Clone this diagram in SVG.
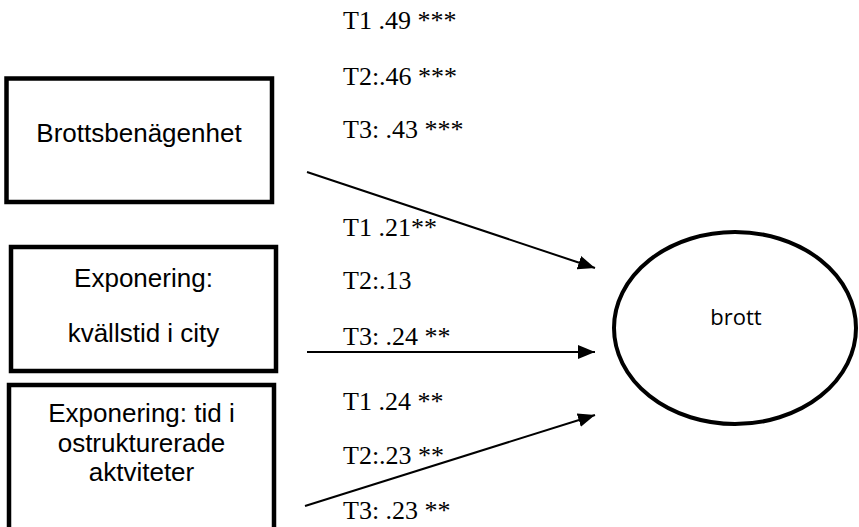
<svg xmlns="http://www.w3.org/2000/svg" width="859" height="527" viewBox="0 0 859 527">
<style>
.box{fill:#fff;stroke:#000;stroke-width:4.5}
.lbl{font-family:"Liberation Sans",Arial,sans-serif;font-size:26px;fill:#000;text-anchor:middle}
.coef{font-family:"Liberation Serif","Times New Roman",serif;font-size:26px;fill:#000}
.edge{stroke:#000;stroke-width:2;fill:none}
</style>
<defs>
<marker id="ah" markerUnits="userSpaceOnUse" markerWidth="18" markerHeight="14" refX="17" refY="7" orient="auto">
<path d="M0,0 L17,7 L0,14 z" fill="#000"/>
</marker>
</defs>
<rect width="859" height="527" fill="#fff"/>
<g id="connectors">
<line class="edge" x1="307" y1="172" x2="595" y2="268" marker-end="url(#ah)"/>
<line class="edge" x1="307" y1="352" x2="595" y2="352" marker-end="url(#ah)"/>
<line class="edge" x1="305" y1="506" x2="595" y2="415" marker-end="url(#ah)"/>
</g>
<g id="node-brottsbenagenhet">
<rect class="box" x="6.5" y="78.5" width="265.5" height="123.5"/>
<text class="lbl" x="139" y="142">Brottsbenägenhet</text>
</g>
<g id="node-exponering-city">
<rect class="box" x="11" y="247" width="265" height="124"/>
<text class="lbl" x="143.5" y="287">Exponering:</text>
<text class="lbl" x="143.5" y="342">kvällstid i city</text>
</g>
<g id="node-exponering-ostrukt">
<rect class="box" x="9" y="385" width="265" height="150"/>
<text class="lbl" x="141.5" y="422">Exponering: tid i</text>
<text class="lbl" x="141.5" y="452">ostrukturerade</text>
<text class="lbl" x="141.5" y="481">aktviteter</text>
</g>
<g id="node-brott">
<ellipse cx="735" cy="328" rx="121" ry="96" fill="#fff" stroke="#000" stroke-width="4"/>
<text x="736" y="325" font-family="'Open Sans','Noto Sans',sans-serif" font-size="22" text-anchor="middle" fill="#000">brott</text>
</g>
<g id="labels">
<text class="coef" x="343" y="29">T1 .49 ***</text>
<text class="coef" x="343" y="85">T2:.46 ***</text>
<text class="coef" x="343" y="138">T3: .43 ***</text>
<text class="coef" x="343" y="236">T1 .21**</text>
<text class="coef" x="343" y="289">T2:.13</text>
<text class="coef" x="343" y="345">T3: .24 **</text>
<text class="coef" x="343" y="410">T1 .24 **</text>
<text class="coef" x="343" y="464">T2:.23 **</text>
<text class="coef" x="343" y="519">T3: .23 **</text>
</g>
</svg>
